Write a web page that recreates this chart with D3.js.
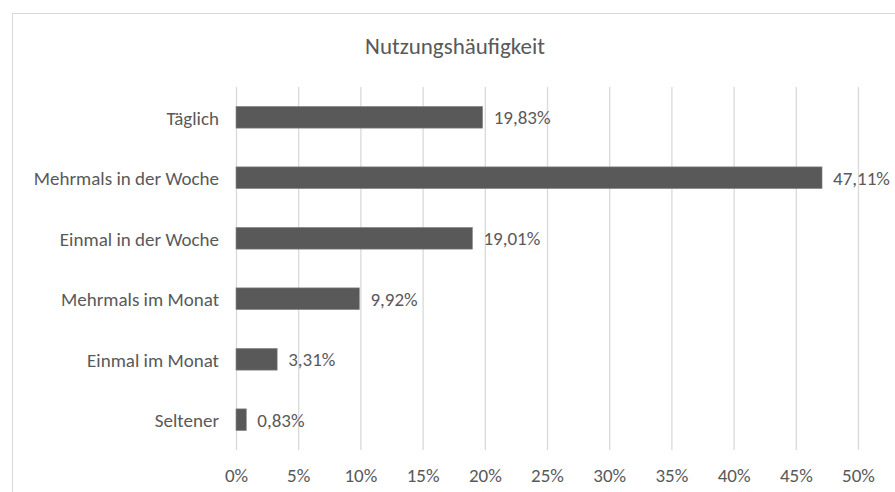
<!DOCTYPE html>
<html><head><meta charset="utf-8">
<script src="https://cdn.jsdelivr.net/npm/d3@7"></script>
<style>html,body{margin:0;padding:0;background:#fff;}svg{display:block;}</style>
</head><body>
<svg id="c" width="895" height="492"></svg>
<script>
const categories = ["Täglich","Mehrmals in der Woche","Einmal in der Woche","Mehrmals im Monat","Einmal im Monat","Seltener"];
const values = [19.83, 47.11, 19.01, 9.92, 3.31, 0.83];
const labels = ["19,83%","47,11%","19,01%","9,92%","3,31%","0,83%"];
const ticks = [0,5,10,15,20,25,30,35,40,45,50];
const title = "Nutzungshäufigkeit";

const svg = d3.select("#c");
const font = "Carlito, Calibri, Lato, sans-serif";
const grey = "#595959";
svg.append("rect").attr("x",12.5).attr("y",13.5).attr("width",900).attr("height",500)
  .attr("fill","#fff").attr("stroke","#d9d9d9");

const x = d3.scaleLinear().domain([0,50]).range([236,858]);
const y = d3.scaleBand().domain(categories).range([87,450]).paddingInner(0.64).paddingOuter(0.32);

svg.append("text").attr("x",455).attr("y",54).attr("text-anchor","middle")
  .attr("font-family",font).attr("font-size",23).attr("fill",grey).text(title);

const gx = svg.append("g").attr("transform","translate(0,87)")
  .call(d3.axisBottom(x).tickValues(ticks).tickSize(363).tickPadding(0).tickFormat(d=>d+"%"));
gx.select(".domain").remove();
gx.selectAll(".tick line").attr("stroke","#d9d9d9").attr("stroke-width",1.3);
gx.selectAll(".tick text").attr("font-family",font).attr("font-size",19).attr("fill",grey)
  .attr("y",394.5).attr("dy",0);

const gy = svg.append("g").attr("transform","translate(236,0)")
  .call(d3.axisLeft(y).tickSize(0).tickPadding(17));
gy.select(".domain").remove();
gy.selectAll(".tick text").attr("font-family",font).attr("font-size",19).attr("fill",grey).attr("dy","0.4em");

svg.append("g").selectAll("rect").data(values).join("rect")
  .attr("x",x(0)).attr("y",(d,i)=>y(categories[i]))
  .attr("width",d=>x(d)-x(0)).attr("height",y.bandwidth())
  .attr("fill","#595959").attr("stroke","#8c8c8c").attr("stroke-width",0.6);

svg.append("g").selectAll("text").data(values).join("text")
  .attr("x",d=>x(d)+11).attr("y",(d,i)=>y(categories[i])+y.bandwidth()/2).attr("dy","0.38em")
  .attr("font-family",font).attr("font-size",19).attr("fill",grey).text((d,i)=>labels[i]);
</script>
</body></html>
